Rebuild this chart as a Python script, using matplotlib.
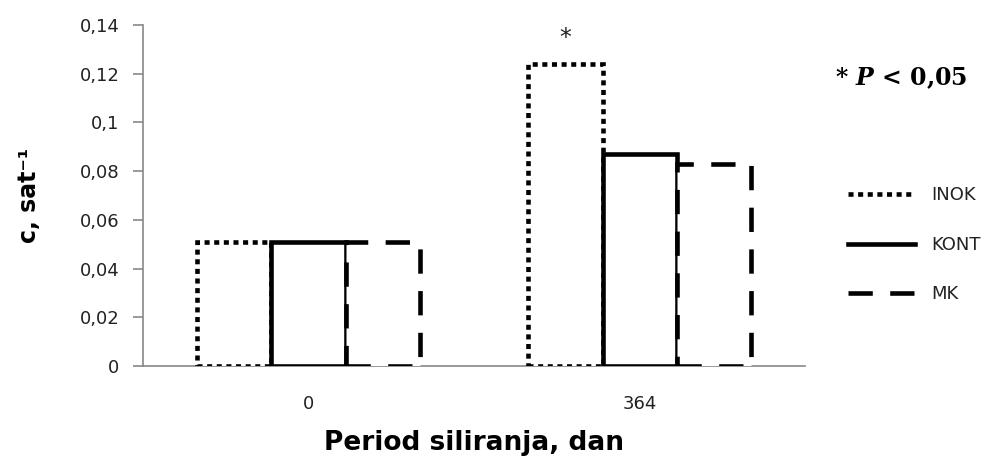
import numpy as np
import matplotlib.pyplot as plt
from matplotlib.lines import Line2D

plt.rcParams['font.family'] = ['DejaVu Sans']
plt.rcParams['mathtext.fontset'] = 'custom'
plt.rcParams['mathtext.it'] = 'DejaVu Serif:bold:italic'
plt.rcParams['mathtext.rm'] = 'DejaVu Serif:bold'

# data
periods = ['0', '364']
inok = [0.051, 0.124]
kont = [0.051, 0.087]
mk = [0.051, 0.083]
series_names = ['INOK', 'KONT', 'MK']
signif = [False, True]   # '*' above INOK at 364

styles = [(0, (1.1, 1.0)), '-', (0, (5.3, 3.8))]
lw = 3.3

fig = plt.figure(figsize=(9.9, 4.7), dpi=100)
ax = fig.add_axes([0.1444, 0.2213, 0.669, 0.7255])

x = np.arange(len(periods))
w = 0.224
for i, (vals, ls) in enumerate(zip([inok, kont, mk], styles)):
    ax.bar(x + (i - 1) * w, vals, width=w, facecolor='white', edgecolor='black',
           linewidth=lw, linestyle=ls, capstyle='butt', joinstyle='miter', zorder=3)

for xi, v, s in zip(x, inok, signif):
    if s:
        ax.annotate('*', (xi - w, v), xytext=(0, 19), textcoords='offset points',
                    ha='center', va='center', fontsize=17, color='#222222')

ax.set_xlim(-0.5, 1.5)
ax.set_ylim(0, 0.14)
ax.set_yticks(np.arange(0, 0.141, 0.02))
ax.set_yticklabels(['0', '0,02', '0,04', '0,06', '0,08', '0,1', '0,12', '0,14'])
ax.set_xticks(x)
ax.set_xticklabels(periods)
ax.tick_params(axis='y', length=7, width=1.2, color='#888888', labelsize=13,
               labelcolor='#222222', pad=10)
ax.tick_params(axis='x', length=0, labelsize=13, labelcolor='#222222', pad=21)
for s in ['top', 'right']:
    ax.spines[s].set_visible(False)
for s in ['left', 'bottom']:
    ax.spines[s].set_color('#888888')
    ax.spines[s].set_linewidth(1.2)
    ax.spines[s].set_zorder(2)

ax.set_ylabel('c, sat⁻¹', fontsize=17, fontweight='bold', labelpad=28)
ax.set_xlabel('Period siliranja, dan', fontsize=19, fontweight='bold', labelpad=12)

fig.text(0.843, 0.834, r'* $\mathit{P}$ < 0,05', fontsize=17, fontfamily='DejaVu Serif',
         fontweight='bold', va='center', ha='left')

handles = [Line2D([], [], color='black', linewidth=lw, linestyle=ls, dash_capstyle='butt')
           for ls in styles]
fig.legend(handles, series_names, loc='center left', bbox_to_anchor=(0.840, 0.479),
           frameon=False, fontsize=13, handlelength=3.7, labelspacing=1.75,
           handletextpad=0.9, labelcolor='#222222')

fig.savefig('out.png', dpi=100)
